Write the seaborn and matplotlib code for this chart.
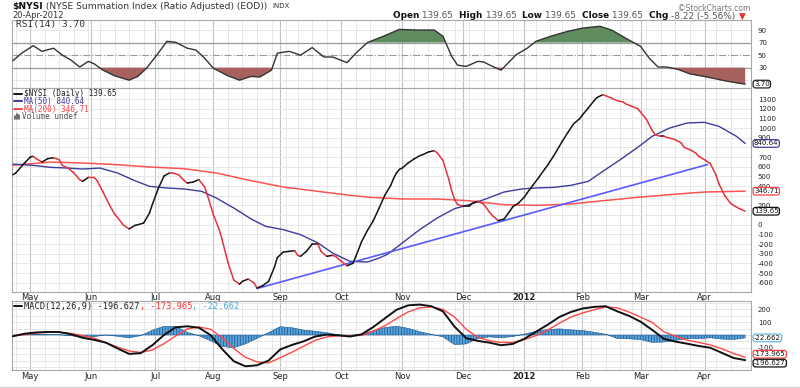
import numpy as np
import pandas as pd
import matplotlib
matplotlib.use("Agg")
import matplotlib.pyplot as plt
import matplotlib.transforms as mtransforms
from matplotlib.collections import LineCollection
from matplotlib.lines import Line2D
import seaborn as sns

# NYSE trading sessions shown on the chart (21-Apr-2011 .. 20-Apr-2012)
holidays = ['2011-04-22', '2011-05-30', '2011-07-04', '2011-09-05', '2011-11-24',
            '2011-12-26', '2012-01-02', '2012-01-16', '2012-02-20', '2012-04-06']
sessions = pd.bdate_range('2011-04-21', '2012-04-20', freq='C', holidays=holidays)
month_lbl = ['May', 'Jun', 'Jul', 'Aug', 'Sep', 'Oct', 'Nov', 'Dec', '2012', 'Feb', 'Mar', 'Apr']

# $NYSI daily line (session number, value)
nysi_session = [0, 1, 4, 6, 7, 8, 10, 12, 14, 16, 17, 19, 21, 23, 24, 26, 28, 29, 31, 33, 35, 36, 38, 40,
                42, 43, 45, 47, 48, 50, 52, 54, 55, 57, 59, 60, 62, 64, 66, 67, 69, 71, 72, 74, 76, 78,
                79, 81, 83, 84, 86, 88, 90, 91, 93, 95, 97, 98, 99, 101, 103, 105, 106, 108, 110, 111,
                113, 115, 117, 118, 120, 122, 124, 126, 128, 130, 131, 132, 133, 134, 136, 138, 140,
                141, 143, 145, 146, 148, 150, 151, 152, 153, 155, 157, 158, 160, 162, 164, 165, 167,
                169, 171, 172, 174, 176, 177, 179, 181, 183, 184, 186, 188, 189, 191, 193, 195, 196,
                198, 200, 201, 203, 204, 206, 208, 210, 211, 213, 215, 216, 218, 220, 221, 223, 224,
                226, 228, 230, 231, 233, 235, 236, 238, 240, 242, 243, 245, 247, 248, 250, 252]
nysi_value = [517, 535, 638, 700, 707, 683, 648, 683, 693, 672, 614, 586, 535, 466, 448, 490, 488, 455,
              340, 218, 110, 75, -3, -44, -7, 0, 17, 120, 210, 372, 503, 537, 535, 517, 455, 431, 441,
              466, 390, 300, 104, -50, -155, -390, -572, -615, -586, -562, -603, -655, -630, -586,
              -440, -340, -284, -276, -269, -317, -327, -276, -200, -200, -276, -327, -317, -327,
              -379, -424, -400, -330, -175, -60, 40, 170, 305, 405, 478, 535, 572, 586, 638, 679,
              714, 724, 752, 766, 745, 665, 470, 350, 260, 210, 190, 190, 220, 242, 212, 130, 95, 42,
              58, 140, 185, 224, 285, 330, 410, 490, 575, 615, 707, 808, 860, 955, 1045, 1095, 1135,
              1207, 1283, 1315, 1345, 1334, 1310, 1283, 1269, 1248, 1224, 1200, 1165, 1090, 975, 931,
              914, 914, 896, 879, 845, 800, 776, 741, 707, 672, 632, 510, 420, 298, 220, 200, 166,
              139.65]

ma50_session = [0, 7, 13, 19, 24, 30, 36, 42, 47, 53, 59, 65, 70, 76, 82, 87, 93, 99, 105, 110, 116,
                122, 126, 129, 134, 140, 146, 152, 157, 163, 169, 175, 180, 186, 192, 198, 203, 209,
                215, 220, 226, 232, 238, 243, 249, 252]
ma50_value = [627, 614, 593, 586, 576, 586, 535, 455, 397, 380, 369, 345, 276, 173, 59, -17, -51, -103,
              -189, -293, -379, -386, -345, -305, -189, -51, 69, 166, 207, 269, 338, 369, 380, 386,
              407, 448, 552, 672, 800, 914, 1000, 1052, 1059, 1017, 914, 840.64]

ma200_session = [0, 13, 24, 36, 47, 59, 70, 82, 93, 105, 116, 123, 134, 146, 157, 169, 180, 192, 203,
                 215, 226, 238, 252]
ma200_value = [615, 648, 638, 621, 597, 579, 535, 455, 390, 345, 304, 283, 266, 266, 248, 207, 200, 214,
               248, 283, 311, 338, 346.71]

trend_session = [84, 239]
trend_value = [-660, 622]

rsi_session = [0, 3, 7, 10, 14, 17, 20, 23, 26, 28, 31, 35, 40, 43, 46, 50, 53, 56, 60, 63, 66, 69, 74,
               78, 82, 85, 89, 91, 95, 99, 103, 107, 110, 115, 118, 122, 128, 133, 139, 145, 148, 151,
               153, 156, 160, 162, 165, 168, 171, 173, 177, 180, 185, 191, 196, 202, 206, 209, 212,
               216, 219, 222, 225, 229, 233, 239, 245, 250, 252]
rsi_value = [41, 53, 65, 56, 61, 50, 42, 31, 40, 36, 26, 17, 10, 16, 29, 53, 72, 70.5, 61, 58, 45, 29,
             17, 10, 16, 15, 26, 53, 56, 50, 62, 47, 47, 38, 53, 70, 81, 91, 90, 90, 80, 48, 34, 32, 40,
             39, 32, 26, 40, 50, 61, 72, 80, 88, 93, 96, 90, 82, 74, 64, 45, 31, 31, 27, 20, 15, 9, 5,
             3.70]

macd_session = list(range(0, 253, 4))
macd_value = [-10, 10, 20, 24, 23, 6, -22, -38, -60, -105, -148, -142, -80, 0, 60, 68, 57, 0, -110,
              -205, -245, -237, -200, -113, -78, -50, -12, 3, -3, -12, 5, 62, 130, 197, 232, 238, 225,
              185, 65, -25, -46, -60, -80, -70, -30, 25, 80, 140, 180, 207, 220, 225, 185, 150, 104, 40,
              -30, -52, -68, -86, -100, -140, -180, -196.627]
signal_value = [-5, 3, 15, 21, 21, 12, -5, -25, -60, -95, -125, -137, -117, -68, -8, 47, 63, 45, -20,
                -105, -175, -210, -219, -178, -135, -88, -42, -15, -5, -5, -3, 29, 72, 128, 180, 212,
                220, 200, 140, 45, -18, -45, -58, -58, -36, -5, 38, 92, 140, 172, 198, 219, 213, 180,
                140, 98, 25, -10, -40, -58, -78, -108, -145, -173.965]

W, H = 800, 388
MONO = 'DejaVu Sans Mono'
sns.set_theme(style='white')
plt.rcParams['font.family'] = ['DejaVu Sans']
plt.rcParams['axes.unicode_minus'] = False
plt.rcParams['hatch.linewidth'] = 0.6

fig = plt.figure(figsize=(8, 3.88), dpi=100)


def box(x0, y0, x1, y1):
    return [x0 / W, 1 - y1 / H, (x1 - x0) / W, (y1 - y0) / H]


ax_r = fig.add_axes(box(12, 20, 751, 88))
ax_p = fig.add_axes(box(12, 88, 751, 291.7))
ax_m = fig.add_axes(box(12, 301, 751, 370))

idx = pd.Series(np.arange(len(sessions)), index=sessions)
month_first = idx.groupby([sessions.year, sessions.month]).first().values[1:]
week_first = [i for i in range(1, len(sessions)) if sessions[i].weekday() < sessions[i - 1].weekday()]


def style(ax, yticks, hidden, ylim, grid_y):
    ax.set_xlim(-0.3, 254)
    ax.set_ylim(*ylim)
    ax.set_yticks(yticks)
    # labels hidden behind the last-value tags are left blank
    ax.set_yticklabels(['' if t in hidden else str(t) for t in yticks])
    ax.yaxis.tick_right()
    ax.tick_params(axis='y', length=0, pad=5, labelsize=5, labelcolor='#222222')
    for i in week_first:
        ax.axvline(i, color='#e4e4e4', lw=0.6, zorder=0)
    for i in month_first:
        ax.axvline(i, color='#c2c2c2', lw=0.8, zorder=0)
    for y in grid_y:
        ax.axhline(y, color='#e4e4e4', lw=0.6, zorder=0)
    for sp in ax.spines.values():
        sp.set_color('#a8a8a8')
        sp.set_linewidth(0.8)
    ax.set_xlabel('')
    ax.set_ylabel('')


def months(ax):
    ax.set_xticks(month_first)
    ax.set_xticklabels(month_lbl)
    ax.tick_params(axis='x', length=0, pad=1.2, labelsize=6.0, labelcolor='#222222')
    for t in ax.get_xticklabels():
        if t.get_text() == '2012':
            t.set_fontweight('bold')


def tag(ax, val, txt, ec, dy=0):
    tr = mtransforms.blended_transform_factory(ax.transAxes, ax.transData)
    tr = tr + mtransforms.ScaledTranslation(0, dy / 100, fig.dpi_scale_trans)
    ax.text(1.004, val, txt, transform=tr, va='center', ha='left', fontsize=5, color='#111111',
            zorder=20, clip_on=False,
            bbox=dict(boxstyle='round,pad=0.12,rounding_size=0.35', fc='white', ec=ec, lw=0.9))


# RSI panel
sns.lineplot(x=rsi_session, y=rsi_value, ax=ax_r, color='#333333', linewidth=1.0, estimator=None, zorder=4)
rx = np.array(rsi_session)
ry = np.array(rsi_value)
ax_r.fill_between(rx, ry, 70, where=ry >= 70, interpolate=True, color='#5f8c5f', lw=0, zorder=3)
ax_r.fill_between(rx, ry, 30, where=ry <= 30, interpolate=True, color='#a8625d', lw=0, zorder=3)
style(ax_r, [10, 30, 50, 70, 90], [10], (-2.5, 106), [10, 90])
ax_r.axhline(70, color='#9a9a9a', lw=0.9, zorder=1)
ax_r.axhline(30, color='#9a9a9a', lw=0.9, zorder=1)
ax_r.axhline(50, color='#9a9a9a', lw=0.8, ls='-.', zorder=1)
ax_r.set_xticks([])
tag(ax_r, rsi_value[-1], '3.70', '#222222')

# price panel
sns.lineplot(x=ma200_session, y=ma200_value, ax=ax_p, color='#ff5252', linewidth=1.1, estimator=None, zorder=3)
sns.lineplot(x=ma50_session, y=ma50_value, ax=ax_p, color='#3c3c9c', linewidth=1.0, estimator=None, zorder=3)
sns.lineplot(x=trend_session, y=trend_value, ax=ax_p, color='#5a5aff', linewidth=1.2, estimator=None, zorder=4)
pts = np.column_stack([nysi_session, nysi_value])
segs = np.stack([pts[:-1], pts[1:]], axis=1)
cols = np.where(np.diff(nysi_value) >= 0, '#151515', '#e2343c')
ax_p.add_collection(LineCollection(segs, colors=cols, linewidths=1.1, capstyle='round', zorder=5))
style(ax_p, list(range(-600, 1301, 100)), [800, 300, 100], (-693, 1414), list(range(-600, 1301, 100)))
months(ax_p)
tag(ax_p, ma50_value[-1], '840.64', '#3c3c9c')
tag(ax_p, ma200_value[-1], '346.71', '#ff4040')
tag(ax_p, nysi_value[-1], '139.65', '#111111')

# MACD panel
mx = np.array(macd_session)
hist = np.array(macd_value) - np.array(signal_value)
ax_m.fill_between(mx, hist, 0, facecolor='#5ba6dc', edgecolor='#1d5a92', hatch='||||||', lw=0.4, zorder=2)
sns.lineplot(x=macd_session, y=signal_value, ax=ax_m, color='#ff4848', linewidth=1.0, estimator=None, zorder=4)
sns.lineplot(x=macd_session, y=macd_value, ax=ax_m, color='#111111', linewidth=1.4, estimator=None, zorder=5)
style(ax_m, [-200, -100, 0, 100, 200], [0, -200], (-274, 266),
      [-250, -200, -150, -100, -50, 0, 50, 100, 150, 200, 250])
months(ax_m)
tag(ax_m, hist[-1], '-22.662', '#6ab4e4')
tag(ax_m, signal_value[-1], '-173.965', '#ff4040', dy=3)
tag(ax_m, macd_value[-1], '-196.627', '#111111', dy=-3)


# header and legends
def chain(ax, x, y, parts, size, family='DejaVu Sans'):
    prev = None
    for txt, col, wt in parts:
        if prev is None:
            prev = ax.annotate(txt, xy=(x, H - y), xycoords='figure pixels', va='center', ha='left',
                               fontsize=size, color=col, fontweight=wt, family=family,
                               annotation_clip=False, zorder=30)
        else:
            prev = ax.annotate(txt, xy=(1, 0), xycoords=prev, va='bottom', ha='left',
                               fontsize=size, color=col, fontweight=wt, family=family,
                               annotation_clip=False, zorder=30)


def hline(x0, x1, y, color, lw=1.4):
    fig.add_artist(Line2D([x0 / W, x1 / W], [1 - y / H, 1 - y / H], color=color, lw=lw,
                          transform=fig.transFigure))


chain(ax_r, 12, 6.5, [('$NYSI', '#111111', 'bold'),
                      (' (NYSE Summation Index (Ratio Adjusted) (EOD))', '#333333', 'normal')], 6.6)
fig.text(272 / W, 1 - 6.5 / H, 'INDX', fontsize=5, color='#333333', va='center')
fig.text(12 / W, 1 - 15.5 / H, '20-Apr-2012', fontsize=6, color='#333333', va='center')
fig.text(750 / W, 1 - 8.5 / H, '\u00a9StockCharts.com', fontsize=5.5, color='#777777', va='center', ha='right')
chain(ax_r, 393, 16, [('Open ', '#111111', 'bold'), ('139.65  ', '#555555', 'normal'),
                      ('High ', '#111111', 'bold'), ('139.65  ', '#555555', 'normal'),
                      ('Low ', '#111111', 'bold'), ('139.65  ', '#555555', 'normal'),
                      ('Close ', '#111111', 'bold'), ('139.65  ', '#555555', 'normal'),
                      ('Chg ', '#111111', 'bold'), ('-8.22 (-5.56%) ', '#555555', 'normal'),
                      ('\u25bc', '#e03030', 'normal')], 6.4)
fig.text(16 / W, 1 - 24.5 / H, 'RSI(14) 3.70', fontsize=6.8, color='#333333', va='center', family=MONO)

legend = [('$NYSI (Daily) 139.65', '#151515', '#222222', 93.5),
          ('MA(50) 840.64', '#3c3c9c', '#3c3c9c', 101.3),
          ('MA(200) 346.71', '#ff4040', '#ff4040', 109.1)]
for txt, lc, tc, y in legend:
    hline(14, 22, y, lc)
    fig.text(24 / W, 1 - y / H, txt, fontsize=5.5, color=tc, va='center', family=MONO)
for k, hgt in enumerate([3, 5, 4]):
    fig.add_artist(Line2D([(15 + 2 * k) / W] * 2, [1 - 119 / H, 1 - (119 - hgt) / H], color='#555555',
                          lw=1.2, transform=fig.transFigure))
fig.text(22 / W, 1 - 116.9 / H, 'Volume undef', fontsize=5.5, color='#555555', va='center', family=MONO)

hline(14, 22, 306, '#111111')
chain(ax_m, 24, 306, [('MACD(12,26,9) -196.627', '#222222', 'normal'), (', -173.965', '#ff3030', 'normal'),
                      (', -22.662', '#4aa8e0', 'normal')], 6.2, family=MONO)

hline(0, 800, 386.5, '#d0d0d0', lw=0.8)

fig.savefig('out.png', dpi=100)
